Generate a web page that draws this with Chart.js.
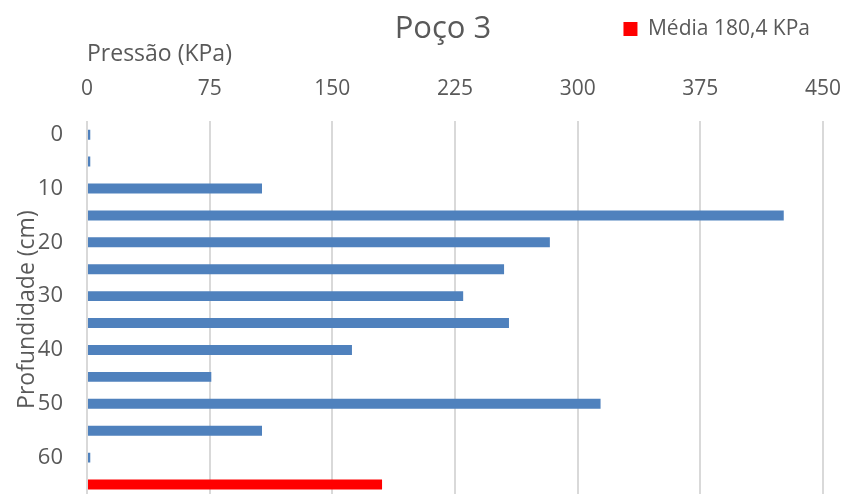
<!DOCTYPE html>
<html>
<head>
<meta charset="utf-8">
<script src="https://cdn.jsdelivr.net/npm/chart.js@4"></script>
<style>
  html, body { margin: 0; padding: 0; background: #fff; overflow: hidden; }
  #wrap { width: 845px; height: 498px; }
</style>
</head>
<body>
<div id="wrap"><canvas id="c" width="845" height="498"></canvas></div>
<script>
// Depth categories (cm); last slot holds the mean bar
const depths = ['0', '5', '10', '15', '20', '25', '30', '35', '40', '45', '50', '55', '60', ''];
// Pressure per depth (KPa)
const pressure = [2, 2, 107, 426, 283, 255, 230, 258, 162, 76, 314, 107, 2, null];
// Mean pressure (KPa), drawn as the last bar
const mean = [null, null, null, null, null, null, null, null, null, null, null, null, null, 180.4];
const xTicks = [0, 75, 150, 225, 300, 375, 450];
const chartTitle = 'Poço 3';

const textColor = '#595959';
const font = 'Open Sans';

// Draws the chart title on the same line as the legend (as in the reference)
const titlePlugin = {
  id: 'sideTitle',
  afterDraw(chart) {
    const ctx = chart.ctx;
    ctx.save();
    ctx.fillStyle = textColor;
    ctx.font = '31px "Open Sans"';
    ctx.textAlign = 'center';
    ctx.textBaseline = 'middle';
    ctx.fillText(chartTitle, 443, 29);
    ctx.restore();
  }
};

new Chart(document.getElementById('c'), {
  type: 'bar',
  data: {
    labels: depths,
    datasets: [
      { label: 'Pressão', data: pressure, backgroundColor: '#4F81BD', barPercentage: 0.37, categoryPercentage: 1 },
      { label: 'Média 180,4 KPa', data: mean, backgroundColor: '#FF0000', barPercentage: 0.37, categoryPercentage: 1 }
    ]
  },
  plugins: [titlePlugin],
  options: {
    indexAxis: 'y',
    responsive: false,
    animation: false,
    devicePixelRatio: 1,
    layout: { padding: { top: 5.5, right: 22, bottom: 0, left: 0 } },
    plugins: {
      title: { display: false },
      legend: {
        display: true,
        position: 'top',
        align: 'end',
        fullSize: false,
        labels: {
          filter: (item) => item.datasetIndex === 1,
          boxWidth: 14,
          boxHeight: 14,
          padding: 13,
          color: textColor,
          font: { family: font, size: 21 }
        }
      },
      tooltip: { enabled: false }
    },
    scales: {
      x: {
        position: 'top',
        stacked: true,
        min: 0,
        max: 450,
        afterBuildTicks: (s) => { s.ticks = xTicks.map(v => ({ value: v })); },
        afterFit: (s) => { s.paddingLeft = 0; s.paddingRight = 0; },
        grid: { color: '#D9D9D9', lineWidth: 2, drawTicks: false },
        border: { display: false },
        ticks: { color: textColor, font: { family: font, size: 21 }, padding: 20, maxRotation: 0 },
        title: {
          display: true,
          text: 'Pressão (KPa)',
          align: 'start',
          color: textColor,
          font: { family: font, size: 23, lineHeight: 1 },
          padding: { top: -6.5, bottom: -10 }
        }
      },
      y: {
        stacked: true,
        afterFit: (s) => { s.width = 87; s.paddingTop = 0; s.paddingBottom = 0; },
        grid: { display: false, drawTicks: false },
        border: { display: false },
        ticks: {
          color: textColor,
          font: { family: font, size: 22 },
          padding: 24,
          autoSkip: false,
          callback: function (val, idx) { return (idx % 2 === 0 && depths[idx] !== '') ? depths[idx] : ''; }
        },
        title: {
          display: true,
          text: 'Profundidade (cm)',
          color: textColor,
          font: { family: font, size: 23, lineHeight: 1.2 },
          padding: { top: 14, bottom: 0 }
        }
      }
    }
  }
});
</script>
</body>
</html>
